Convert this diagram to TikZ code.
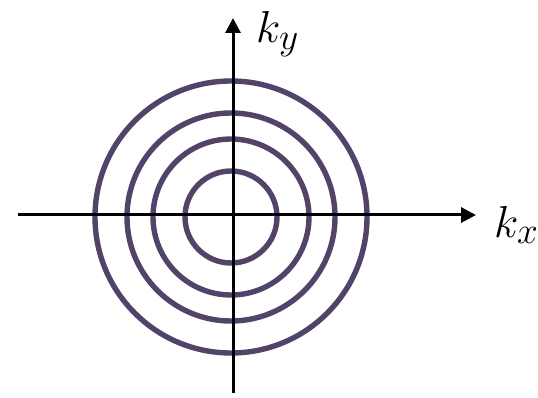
\documentclass[tikz,border=0pt]{standalone}
\usepackage{graphicx}
\usetikzlibrary{arrows.meta}
\definecolor{ringcol}{RGB}{82,67,104}
\newcommand{\biglab}[1]{\scalebox{1.8}{\Huge$#1$}}
\begin{document}
\begin{tikzpicture}[x=1pt,y=-1pt,
  axis/.style={line width=3pt,-{Triangle[length=15pt,width=15pt]}},
  ring/.style={draw=ringcol,line width=5.4pt},
  lab/.style={inner sep=0pt,anchor=base west}]
\useasboundingbox (0,0) rectangle (538,398);
\coordinate (c) at (231,217);
\foreach \r in {46,78,104,136}{\draw[ring] (c) circle[radius=\r];}
\coordinate (xs) at (18,215);
\coordinate (xe) at (476,215);
\coordinate (ys) at (233,393);
\coordinate (ye) at (233,18);
\draw[axis] (xs) -- (xe);
\draw[axis] (ys) -- (ye);
\node[lab] (ky) at (256,43) {\biglab{k_y}};
\node[lab] (kx) at (494,237) {\biglab{k_x}};
\end{tikzpicture}
\end{document}
